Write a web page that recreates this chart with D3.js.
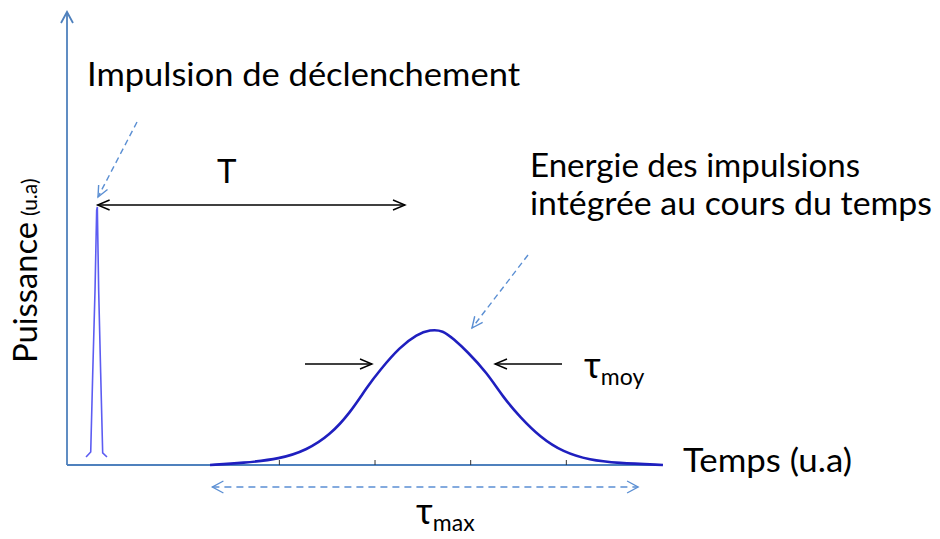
<!DOCTYPE html>
<html>
<head>
<meta charset="utf-8">
<script src="https://cdn.jsdelivr.net/npm/d3@7"></script>
<style>
  body { margin: 0; background: #fff; }
  svg { display: block; }
  text { font-family: Lato, "Open Sans", sans-serif; fill: #000; }
</style>
</head>
<body>
<svg id="chart" width="940" height="539"></svg>
<script>
// pulse: time (u.a), power (u.a)
var pulseT = [-0.021, 0.028, 0.049, 0.073, 0.090, 0.097, 0.111, 0.132, 0.153, 0.198];
var pulseP = [0.060, 0.097, 0.687, 1.306, 1.903, 1.925, 1.306, 0.687, 0.090, 0.060];

// integrated energy curve
var energyT = [1.275, 1.620, 2.007, 2.289, 2.529, 2.738, 2.916, 3.052, 3.261, 3.439, 3.575,
               3.711, 3.820, 3.961, 4.171, 4.338, 4.516, 4.725, 4.965, 5.247, 5.529, 6.010];
var energyP = [0, 0.015, 0.045, 0.112, 0.224, 0.388, 0.582, 0.709, 0.881, 0.975, 1.01,
               1.005, 0.94, 0.850, 0.687, 0.507, 0.358, 0.209, 0.097, 0.037, 0.015, 0];

var tickTimes = [2, 3, 4, 5];

var svg = d3.select("#chart");

var x = d3.scaleLinear().domain([-0.22, 6.0]).range([67, 662]);
var y = d3.scaleLinear().domain([0, 2]).range([465, 197]);

var axisBlue = "#4f81bd";
var dashBlue = "#5b8fd3";

// line + open chevron heads
function arrow(x1, y1, x2, y2, o){
  o = o || {};
  var col = o.color || "#000", w = o.width || 1.4, len = o.len || 12, hw = o.hw || 5;
  svg.append("line")
    .attr("x1", x1).attr("y1", y1).attr("x2", x2).attr("y2", y2)
    .attr("stroke", col).attr("stroke-width", w)
    .attr("stroke-dasharray", o.dash || null);
  var head = function(tx, ty, fx, fy){
    var dx = tx - fx, dy = ty - fy, d = Math.sqrt(dx*dx + dy*dy);
    var ux = dx/d, uy = dy/d;
    var bx = tx - ux*len, by = ty - uy*len;
    svg.append("path")
      .attr("d", "M" + (bx - uy*hw) + "," + (by + ux*hw) + "L" + tx + "," + ty +
                 "L" + (bx + uy*hw) + "," + (by - ux*hw))
      .attr("fill", "none").attr("stroke", col).attr("stroke-width", w);
  };
  if(o.end !== false) head(x2, y2, x1, y1);
  if(o.start) head(x1, y1, x2, y2);
}

// axes
svg.append("line")
  .attr("x1", x(-0.22)).attr("y1", y(0)).attr("x2", x(6.0)).attr("y2", y(0))
  .attr("stroke", axisBlue).attr("stroke-width", 2);
arrow(x(-0.22), y(0), x(-0.22), 12, {color: axisBlue, width: 1.8, len: 11, hw: 6});

// ticks
svg.selectAll("line.tick").data(tickTimes).enter().append("line")
  .attr("class", "tick")
  .attr("x1", function(d){ return x(d); }).attr("x2", function(d){ return x(d); })
  .attr("y1", y(0)).attr("y2", y(0) - 5)
  .attr("stroke", "#333").attr("stroke-width", 1);

// curves
var pulse = pulseT.map(function(t, i){ return [t, pulseP[i]]; });
var energy = energyT.map(function(t, i){ return [t, energyP[i]]; });

svg.append("path")
  .datum(pulse)
  .attr("d", d3.line().x(function(d){ return x(d[0]); }).y(function(d){ return y(d[1]); }))
  .attr("fill", "none").attr("stroke", "#5c5cf2").attr("stroke-width", 1.6);

svg.append("path")
  .datum(energy)
  .attr("d", d3.line().curve(d3.curveBasis)
    .x(function(d){ return x(d[0]); }).y(function(d){ return y(d[1]); }))
  .attr("fill", "none").attr("stroke", "#1f1fbf").attr("stroke-width", 2.6);

// annotations
arrow(x(0.1), 205, 405, 205, {start: true});
arrow(137, 122, 98, 197, {color: dashBlue, dash: "6,4", len: 11, hw: 5});
arrow(528, 255, 472, 328, {color: dashBlue, dash: "6,4", len: 11, hw: 5});
arrow(305, 364, 372, 364, {});
arrow(562, 364, 495, 364, {});
arrow(x(1.3), 487, x(5.75), 487, {color: dashBlue, dash: "7,5", start: true, len: 11, hw: 6});

// labels
svg.append("text").attr("x", 87).attr("y", 86).attr("font-size", 33)
  .attr("textLength", 433).attr("lengthAdjust", "spacingAndGlyphs")
  .text("Impulsion de déclenchement");
svg.append("text").attr("x", 217).attr("y", 183).attr("font-size", 33).text("T");
svg.append("text").attr("x", 530).attr("y", 177).attr("font-size", 33)
  .attr("textLength", 330).attr("lengthAdjust", "spacingAndGlyphs")
  .text("Energie des impulsions");
svg.append("text").attr("x", 530).attr("y", 215).attr("font-size", 33)
  .attr("textLength", 402).attr("lengthAdjust", "spacingAndGlyphs")
  .text("intégrée au cours du temps");
svg.append("text").attr("x", 683).attr("y", 472).attr("font-size", 33)
  .attr("textLength", 169).attr("lengthAdjust", "spacingAndGlyphs")
  .text("Temps (u.a)");

var tm = svg.append("text").attr("x", 584).attr("y", 378).attr("font-size", 36);
tm.append("tspan").text("τ");
tm.append("tspan").attr("font-size", 23).attr("dy", 7).text("moy");

var tx = svg.append("text").attr("x", 416).attr("y", 524).attr("font-size", 36);
tx.append("tspan").text("τ");
tx.append("tspan").attr("font-size", 23).attr("dy", 7).text("max");

var yl = svg.append("text").attr("transform", "translate(37,363) rotate(-90)").attr("font-size", 33);
yl.append("tspan").attr("textLength", 141).attr("lengthAdjust", "spacingAndGlyphs").text("Puissance");
yl.append("tspan").attr("font-size", 21).attr("dx", 6).text("(u.a)");
</script>
</body>
</html>
